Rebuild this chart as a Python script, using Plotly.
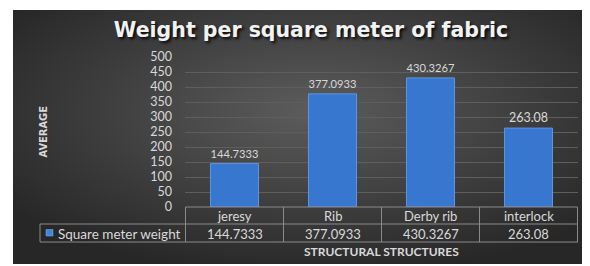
import base64
import plotly.graph_objects as go

categories = ["jeresy", "Rib", "Derby rib", "interlock"]
values = [144.7333, 377.0933, 430.3267, 263.08]
value_labels = ["144.7333", "377.0933", "430.3267", "263.08"]
series_name = "Square meter weight"
title_text = "Weight per square meter of fabric"
y_title = "AVERAGE"
x_title = "STRUCTURAL STRUCTURES"

OFF = 8  # default page body margin (left and top)
W, H = 590 - OFF, 266 - OFF
L, R, T, B = 185 - OFF, 12, 57 - OFF, 59
PW, PH = W - L - R, H - T - B


def px(xp):
    return (xp - OFF - L) / PW


def py(yp):
    return (H - B - (yp - OFF)) / PH


TXT = "#d9d9d9"
GRID = "#5e5e5e"
BORDER = "#8a8a8a"
FONT = "Lato"

svg = ('<svg xmlns="http://www.w3.org/2000/svg" width="575" height="254" viewBox="0 0 575 254" preserveAspectRatio="none">'
       '<defs><radialGradient id="g" cx="52%" cy="40%" r="65%">'
       '<stop offset="0" stop-color="#5c5c5c"/><stop offset="1" stop-color="#272727"/>'
       '</radialGradient></defs><rect width="575" height="254" fill="url(#g)"/></svg>')
src = "data:image/svg+xml;base64," + base64.b64encode(svg.encode()).decode()

fig = go.Figure()
fig.add_trace(go.Bar(
    x=categories, y=values, name=series_name,
    marker=dict(color="#3877cf", line=dict(color="#5d95de", width=1)),
    text=value_labels, textposition="outside", cliponaxis=False,
    textfont=dict(family=FONT, size=12.5, color=TXT),
))

shapes = []
line = dict(color=BORDER, width=1)
n = len(categories)
shapes.append(dict(type="line", xref="x", yref="paper", x0=-0.5, x1=n - 0.5, y0=py(207), y1=py(207), line=line))
for i in range(n + 1):
    shapes.append(dict(type="line", xref="x", yref="paper", x0=i - 0.5, x1=i - 0.5, y0=py(207), y1=py(242), line=line))
for yy in (224, 242):
    shapes.append(dict(type="line", xref="paper", yref="paper", x0=px(40), x1=px(578), y0=py(yy), y1=py(yy), line=line))
shapes.append(dict(type="line", xref="paper", yref="paper", x0=px(40), x1=px(40), y0=py(224), y1=py(242), line=line))
shapes.append(dict(type="rect", xref="paper", yref="paper", x0=px(46), x1=px(53), y0=py(229.5), y1=py(236),
                   fillcolor="#3f86dd", line=dict(color="#7fb0ee", width=0.5)))

annotations = []
for c in categories:
    annotations.append(dict(x=c, xref="x", yref="paper", y=py(215.5), text=c, showarrow=False,
                            font=dict(family=FONT, size=13, color=TXT), yanchor="middle"))
for c, v in zip(categories, value_labels):
    annotations.append(dict(x=c, xref="x", yref="paper", y=py(233.5), text=v, showarrow=False,
                            font=dict(family=FONT, size=13, color=TXT), yanchor="middle"))
annotations.append(dict(x=px(56), xref="paper", yref="paper", y=py(233.5), text=series_name, showarrow=False,
                        xanchor="left", yanchor="middle", font=dict(family=FONT, size=13.5, color=TXT)))
annotations.append(dict(x=px(381.5), xref="paper", yref="paper", y=py(251.5), text="<b>" + x_title + "</b>",
                        showarrow=False, yanchor="middle", font=dict(family=FONT, size=12, color=TXT)))
annotations.append(dict(x=px(42.5), xref="paper", yref="paper", y=py(132), text="<b>" + y_title + "</b>",
                        showarrow=False, textangle=-90, xanchor="center", yanchor="middle",
                        font=dict(family="DejaVu Sans Condensed", size=11, color=TXT)))

fig.update_layout(
    width=W, height=H,
    margin=dict(l=L, r=R, t=T, b=B, pad=0),
    paper_bgcolor="white", plot_bgcolor="rgba(0,0,0,0)",
    showlegend=False,
    bargap=0.51,
    title=dict(text="<b>" + title_text + "</b>", x=(311 - OFF) / W, xref="container", xanchor="center",
               y=1 - (30 - OFF) / H, yref="container", yanchor="middle",
               font=dict(family="DejaVu Sans", size=20.5, color="#f2f2f2",
                         shadow="2px 2px 3px rgba(0,0,0,0.85)")),
    images=[dict(source=src, xref="paper", yref="paper", x=px(13), y=py(10),
                 sizex=px(588) - px(13), sizey=py(10) - py(264), xanchor="left", yanchor="top",
                 sizing="stretch", layer="below")],
    shapes=shapes, annotations=annotations,
    xaxis=dict(showticklabels=False, showgrid=False, zeroline=False, showline=False, ticks=""),
    yaxis=dict(range=[0, 500], dtick=50, showgrid=True, gridcolor=GRID, gridwidth=1, zeroline=False,
               showline=False, ticks="", ticklabelstandoff=12,
               tickfont=dict(family=FONT, size=12.5, color=TXT)),
)

fig.write_html("out.html")
